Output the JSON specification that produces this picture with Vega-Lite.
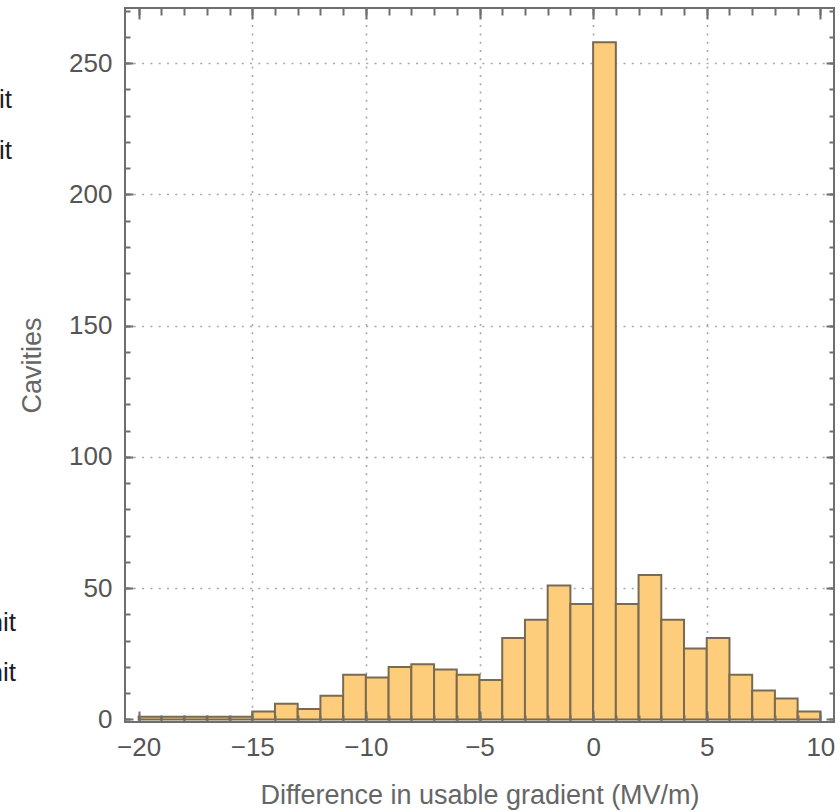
{
  "$schema": "https://vega.github.io/schema/vega-lite/v6.json",
  "width": 709,
  "height": 714,
  "autosize": {"type": "none"},
  "padding": {"left": 125, "top": 8, "right": 6, "bottom": 90},
  "background": "white",
  "config": {
    "view": {"stroke": "#6e6e6e", "strokeWidth": 2},
    "axis": {
      "domain": false,
      "grid": false,
      "labelFont": "Liberation Sans",
      "titleFont": "Liberation Sans",
      "labelColor": "#555555",
      "titleColor": "#666666",
      "tickColor": "#6e6e6e",
      "tickWidth": 2,
      "labelFontSize": 26,
      "titleFontSize": 27,
      "titleFontWeight": "normal",
      "labelFlush": false,
      "labelOverlap": false
    }
  },
  "datasets": {
    "bins": [
      {"start": -20, "end": -19, "count": 1},
      {"start": -19, "end": -18, "count": 1},
      {"start": -18, "end": -17, "count": 1},
      {"start": -17, "end": -16, "count": 1},
      {"start": -16, "end": -15, "count": 1},
      {"start": -15, "end": -14, "count": 3},
      {"start": -14, "end": -13, "count": 6},
      {"start": -13, "end": -12, "count": 4},
      {"start": -12, "end": -11, "count": 9},
      {"start": -11, "end": -10, "count": 17},
      {"start": -10, "end": -9, "count": 16},
      {"start": -9, "end": -8, "count": 20},
      {"start": -8, "end": -7, "count": 21},
      {"start": -7, "end": -6, "count": 19},
      {"start": -6, "end": -5, "count": 17},
      {"start": -5, "end": -4, "count": 15},
      {"start": -4, "end": -3, "count": 31},
      {"start": -3, "end": -2, "count": 38},
      {"start": -2, "end": -1, "count": 51},
      {"start": -1, "end": 0, "count": 44},
      {"start": 0, "end": 1, "count": 258},
      {"start": 1, "end": 2, "count": 44},
      {"start": 2, "end": 3, "count": 55},
      {"start": 3, "end": 4, "count": 38},
      {"start": 4, "end": 5, "count": 27},
      {"start": 5, "end": 6, "count": 31},
      {"start": 6, "end": 7, "count": 17},
      {"start": 7, "end": 8, "count": 11},
      {"start": 8, "end": 9, "count": 8},
      {"start": 9, "end": 10, "count": 3}
    ],
    "notes": [
      {"t": "it", "px": -25.57, "py": 236},
      {"t": "it", "px": -25.57, "py": 216.5},
      {"t": "nit", "px": -25.4, "py": 36.7},
      {"t": "nit", "px": -25.4, "py": 17.7}
    ]
  },
  "data": {"name": "bins"},
  "layer": [
    {
      "mark": {"type": "bar", "fill": "#fdcd7b", "stroke": "#7a6a52", "strokeWidth": 2},
      "encoding": {
        "x": {
          "field": "start", "type": "quantitative",
          "scale": {"domain": [-20.6, 10.6], "nice": false, "zero": false},
          "axis": {"orient": "bottom", "values": [-20, -15, -10, -5, 0, 5, 10], "ticks": false, "labelPadding": 12,
                   "title": "Difference in usable gradient (MV/m)", "titlePadding": 22}
        },
        "x2": {"field": "end"},
        "y": {
          "field": "count", "type": "quantitative",
          "scale": {"domain": [-1, 271], "nice": false, "zero": false},
          "axis": {"orient": "left", "values": [0, 50, 100, 150, 200, 250], "ticks": false, "labelPadding": 13,
                   "title": "Cavities", "titlePadding": 22}
        },
        "y2": {"datum": 0}
      }
    },
    {
      "mark": {"type": "bar", "opacity": 0},
      "encoding": {
        "x": {"field": "start", "type": "quantitative", "scale": {"domain": [-20.6, 10.6], "nice": false, "zero": false},
              "axis": {"orient": "bottom", "values": [-20,-19,-18,-17,-16,-15,-14,-13,-12,-11,-10,-9,-8,-7,-6,-5,-4,-3,-2,-1,0,1,2,3,4,5,6,7,8,9,10],
                       "labels": false, "title": null, "tickSize": -7, "zindex": 2}},
        "x2": {"field": "end"},
        "y": {"field": "count", "type": "quantitative", "scale": {"domain": [-1, 271], "nice": false, "zero": false},
              "axis": {"orient": "left", "values": [0,10,20,30,40,50,60,70,80,90,100,110,120,130,140,150,160,170,180,190,200,210,220,230,240,250,260,270],
                       "labels": false, "title": null, "tickSize": -5, "zindex": 2}},
        "y2": {"datum": 0}
      }
    },
    {
      "mark": {"type": "bar", "opacity": 0},
      "encoding": {
        "x": {"field": "start", "type": "quantitative", "scale": {"domain": [-20.6, 10.6], "nice": false, "zero": false},
              "axis": {"orient": "bottom", "values": [-20, -15, -10, -5, 0, 5, 10], "labels": false, "title": null, "tickSize": -11, "zindex": 2}},
        "x2": {"field": "end"},
        "y": {"field": "count", "type": "quantitative", "scale": {"domain": [-1, 271], "nice": false, "zero": false},
              "axis": {"orient": "left", "values": [0, 50, 100, 150, 200, 250], "labels": false, "title": null, "tickSize": -8, "zindex": 2}},
        "y2": {"datum": 0}
      }
    },
    {
      "mark": {"type": "bar", "opacity": 0},
      "encoding": {
        "x": {"field": "start", "type": "quantitative", "scale": {"domain": [-20.6, 10.6], "nice": false, "zero": false},
              "axis": {"orient": "top", "values": [-20,-19,-18,-17,-16,-15,-14,-13,-12,-11,-10,-9,-8,-7,-6,-5,-4,-3,-2,-1,0,1,2,3,4,5,6,7,8,9,10],
                       "labels": false, "title": null, "tickSize": -7, "zindex": 2}},
        "x2": {"field": "end"},
        "y": {"field": "count", "type": "quantitative", "scale": {"domain": [-1, 271], "nice": false, "zero": false},
              "axis": {"orient": "right", "values": [0,10,20,30,40,50,60,70,80,90,100,110,120,130,140,150,160,170,180,190,200,210,220,230,240,250,260,270],
                       "labels": false, "title": null, "tickSize": -5, "zindex": 2}},
        "y2": {"datum": 0}
      }
    },
    {
      "mark": {"type": "bar", "opacity": 0},
      "encoding": {
        "x": {"field": "start", "type": "quantitative", "scale": {"domain": [-20.6, 10.6], "nice": false, "zero": false},
              "axis": {"orient": "top", "values": [-20, -15, -10, -5, 0, 5, 10], "labels": false, "title": null, "tickSize": -11, "zindex": 2}},
        "x2": {"field": "end"},
        "y": {"field": "count", "type": "quantitative", "scale": {"domain": [-1, 271], "nice": false, "zero": false},
              "axis": {"orient": "right", "values": [0, 50, 100, 150, 200, 250], "labels": false, "title": null, "tickSize": -8, "zindex": 2}},
        "y2": {"datum": 0}
      }
    },
    {
      "mark": {"type": "bar", "opacity": 0},
      "encoding": {
        "x": {"field": "start", "type": "quantitative", "scale": {"domain": [-20.6, 10.6], "nice": false, "zero": false},
              "axis": {"orient": "bottom", "values": [-15, -10, -5, 0, 5], "labels": false, "ticks": false, "title": null,
                       "grid": true, "gridColor": "#a8a8a8", "gridDash": [2, 6.3], "gridWidth": 1.6, "zindex": 0}},
        "x2": {"field": "end"},
        "y": {"field": "count", "type": "quantitative", "scale": {"domain": [-1, 271], "nice": false, "zero": false},
              "axis": {"orient": "left", "values": [50, 100, 150, 200, 250], "labels": false, "ticks": false, "title": null,
                       "grid": true, "gridColor": "#a8a8a8", "gridDash": [2, 6.3], "gridWidth": 1.6, "zindex": 0}},
        "y2": {"datum": 0}
      }
    },
    {
      "data": {"name": "notes"},
      "mark": {"type": "text", "align": "right", "baseline": "middle", "font": "Liberation Sans", "fontSize": 26, "color": "#1c1c2c"},
      "encoding": {
        "x": {"field": "px", "type": "quantitative", "scale": {"domain": [-20.6, 10.6], "nice": false, "zero": false}, "axis": null},
        "y": {"field": "py", "type": "quantitative", "scale": {"domain": [-1, 271], "nice": false, "zero": false}, "axis": null},
        "text": {"field": "t"}
      }
    }
  ],
  "resolve": {"axis": {"x": "independent", "y": "independent"}}
}
